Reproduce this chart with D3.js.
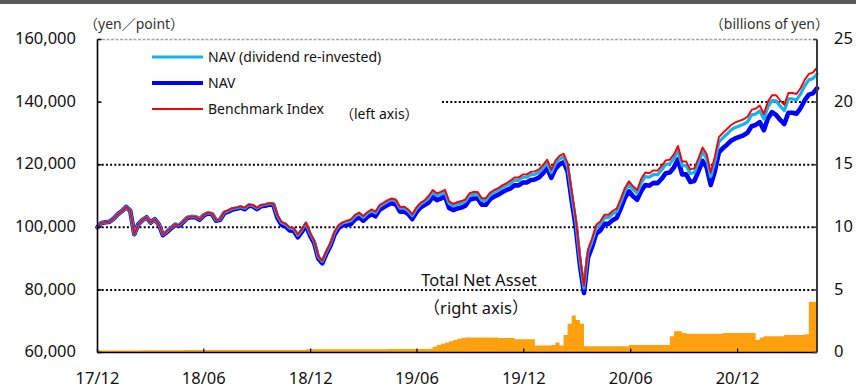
<!DOCTYPE html>
<html>
<head>
<meta charset="utf-8">
<script src="https://cdn.jsdelivr.net/npm/d3@7"></script>
<style>
  body { margin: 0; background: #fff; }
  svg { display: block; font-family: "Noto Sans", "Noto Sans CJK JP", sans-serif; }
</style>
</head>
<body>
<svg id="chart" width="856" height="388"></svg>
<script>
// Weekly observations starting from this date
const startDate = "2017-12-01";

// Benchmark index (yen/point, left axis)
const benchmark = [
  100000,101400,101600,101800,102800,104200,105200,106500,105300,97800,101000,102300,103200,101500,102600,100900,
  97700,98700,99900,101000,100700,101900,103200,103500,103400,102600,104000,104600,104400,102300,102600,
  104900,105400,106100,106300,106700,106200,107300,107100,106200,107100,107300,107700,107600,
  103900,101700,101200,99900,99800,97700,99500,101500,98200,95800,90800,89300,92400,95000,98600,100700,101600,
  102100,102500,104000,104700,103600,104800,105700,105000,107100,107900,108700,109200,108800,106500,106600,105700,104100,106300,107800,108600,
  110000,111900,110850,111300,112000,108300,107500,108000,108400,108950,110900,111300,111300,109300,109300,111000,111900,112500,113400,114050,
  114900,115900,115900,116900,116900,117700,117850,118500,119900,121600,118400,121300,122800,123500,120500,
  111500,102800,90500,81300,93000,96500,100800,101900,104000,104000,105200,106000,109100,112500,114700,113100,111900,
  115500,117500,117250,118200,118100,119600,121400,121600,123300,126000,121000,121000,118500,118850,122000,125500,123400,117500,
  122500,128800,130200,131400,132700,133500,134000,134500,135300,137500,137900,138900,136200,140150,142200,
  142200,140500,139100,142900,142900,142600,144500,147100,149000,149400,151000
];

// NAV with dividends re-invested (yen, left axis)
const navReinvested = [
  100000,101400,101600,101800,102800,104200,105200,106500,105300,97800,101000,102300,103200,101500,102600,100900,
  97700,98700,99900,101000,100700,101900,103200,103500,103400,102600,104000,104600,104400,102300,102600,
  104800,105300,106000,106200,106600,106100,107200,107000,106100,107000,107200,107600,107500,
  103700,101500,101000,99700,99600,97500,99300,101300,98000,95600,90600,89100,92200,94800,98400,100500,101400,
  101700,102100,103600,104300,103200,104400,105300,104600,106700,107500,108300,108800,108400,106100,106200,105300,103700,105900,107400,108200,
  109300,111200,110200,110600,111300,107600,106900,107400,107800,108300,110200,110600,110600,108600,108600,110300,111200,111800,112700,113400,
  114000,115000,115000,116000,116000,116800,116900,117600,118900,120600,117500,120300,121800,122500,119500,
  110500,101900,89700,80600,92200,95600,99900,101000,103100,103100,104300,105000,108100,111500,113700,112100,110900,
  114200,116200,116000,116900,116800,118300,120100,120300,121900,124600,119700,119700,117200,117500,120700,124100,122000,116200,
  121000,127300,128600,129800,131100,131900,132400,132900,133700,135900,136200,137200,134600,138500,140500,
  140400,138700,137300,141000,141000,140700,142600,145200,147100,147500,149000
];

// NAV (yen, left axis)
const nav = [
  100000,101400,101600,101800,102800,104200,105200,106500,105300,97800,101000,102300,103200,101500,102600,100900,
  97500,98500,99700,100800,100500,101700,103000,103300,103200,102400,103800,104400,104200,102100,102400,
  104500,105000,105700,105900,106300,105800,106900,106700,105800,106700,106900,107300,107200,
  103000,100800,100300,99000,98900,96800,98600,100600,97300,94900,90000,88500,91600,94100,97700,99800,100700,
  100700,101100,102500,103200,102100,103300,104200,103500,105600,106400,107200,107700,107300,105000,105100,104200,102600,104800,106300,107100,
  107900,109800,108700,109200,109900,106200,105500,106000,106300,106900,108800,109200,109200,107200,107200,108900,109800,110400,111200,111900,
  112400,113400,113400,114300,114300,115100,115300,115900,117300,118900,115800,118600,120100,120800,117800,
  108400,99900,88000,79000,90400,93800,98000,99000,101100,101100,102300,103000,106000,109400,111500,109900,108800,
  111600,113500,113300,114200,114100,115500,117300,117500,119100,121700,116900,116900,114500,114800,117900,121200,119200,113500,
  117800,123900,125300,126400,127700,128400,128900,129400,130200,132300,132700,133600,131000,134800,136800,
  135900,134300,133000,136600,136600,136300,138100,140600,142400,142800,144400
];

// Total net asset (billions of yen, right axis)
const totalNetAsset = [
  0.15,0.15,0.15,0.15,0.15,0.15,0.15,0.15,0.15,0.15,0.15,
  0.18,0.18,0.18,0.18,0.18,0.18,0.18,0.18,0.18,0.18,
  0.2,0.2,0.2,0.2,0.2,0.2,0.2,0.2,0.2,0.2,0.2,0.2,0.2,0.2,0.2,0.2,0.2,0.2,0.2,0.2,0.2,0.2,0.2,0.2,0.2,0.2,0.2,0.2,0.2,0.2,
  0.25,0.25,0.25,0.25,0.25,0.25,0.25,0.25,0.25,0.25,0.25,0.25,0.25,0.25,0.25,0.25,0.25,0.25,0.25,0.25,0.28,0.28,0.28,0.28,0.28,0.28,0.28,0.28,0.28,0.28,
  0.3,0.45,0.6,0.7,0.8,0.9,1.0,1.1,1.15,
  1.2,1.2,1.2,1.2,1.2,1.2,1.2,1.2,
  1.15,1.15,1.15,1.15,
  1.05,1.05,1.05,1.05,1.05,
  0.55,0.55,0.55,0.55,
  0.6,0.8,0.55,
  1.4,2.3,2.95,2.6,2.3,
  0.5,0.5,0.5,0.5,0.5,0.5,0.5,0.5,0.5,0.5,0.5,
  0.6,0.6,0.6,0.6,0.6,0.6,0.6,0.6,0.6,0.6,
  1.3,1.7,1.7,1.55,
  1.5,1.5,1.5,1.5,1.5,1.5,1.5,1.5,1.5,
  1.55,1.55,1.55,1.55,1.55,1.55,1.55,1.55,
  1.0,1.2,
  1.3,1.3,1.3,1.3,1.3,
  1.4,1.4,1.4,1.4,1.4,
  1.45,
  4.05,4.05,4.1
];

const leftTicks = [60000, 80000, 100000, 120000, 140000, 160000];
const rightTicks = [0, 5, 10, 15, 20, 25];
const gridValues = [80000, 100000, 120000, 140000];
const monthTicks = ["2017-12-01", "2018-06-01", "2018-12-01", "2019-06-01", "2019-12-01", "2020-06-01", "2020-12-01"];
const monthLabels = ["17/12", "18/06", "18/12", "19/06", "19/12", "20/06", "20/12"];

const seriesNames = ["NAV (dividend re-invested)", "NAV", "Benchmark Index"];
const seriesColors = ["#12b4ee", "#0000ff", "#ff0000"];

const parse = d3.utcParse("%Y-%m-%d");
const t0 = parse(startDate);
const dates = benchmark.map((_, i) => d3.utcDay.offset(t0, 7 * i));
const tickDates = monthTicks.map(parse);

const plotLeft = 97.5, plotRight = 817, plotTop = 39.5, plotBottom = 352.5;

const x = d3.scaleUtc().domain([dates[0], dates[dates.length - 1]]).range([plotLeft, plotRight]);
const yL = d3.scaleLinear().domain([60000, 160000]).range([plotBottom, plotTop]);
const yR = d3.scaleLinear().domain([0, 25]).range([plotBottom, plotTop]);

const svg = d3.select("#chart");

// header strip
svg.append("rect").attr("x", 0).attr("y", 0).attr("width", 856).attr("height", 4).attr("fill", "#595959");

// dotted gridlines
svg.append("g").selectAll("line").data(gridValues).join("line")
  .attr("x1", plotLeft).attr("x2", plotRight)
  .attr("y1", d => yL(d)).attr("y2", d => yL(d))
  .attr("stroke", "#000").attr("stroke-width", 2).attr("stroke-dasharray", "2,2.2");

// top border
svg.append("line").attr("x1", plotLeft).attr("x2", plotRight).attr("y1", plotTop).attr("y2", plotTop)
  .attr("stroke", "#a6a6a6").attr("stroke-width", 1.5).attr("stroke-dasharray", "3,1.5");

// legend backdrop
svg.append("rect").attr("x", plotLeft + 1).attr("y", 44).attr("width", 343).attr("height", 82).attr("fill", "#fff");

// total net asset area
const area = d3.area()
  .x((d, i) => x(dates[i]))
  .y0(yR(0))
  .y1(d => yR(d))
  .curve(d3.curveStepAfter);
svg.append("path").datum(totalNetAsset).attr("d", area).attr("fill", "#ffa00f");

// lines: NAV underneath, re-invested NAV, benchmark on top
const line = d3.line().x((d, i) => x(dates[i])).y(d => yL(d));
const lineSpecs = [
  { data: nav, color: seriesColors[1], w: 4.6 },
  { data: navReinvested, color: seriesColors[0], w: 3.2 },
  { data: benchmark, color: seriesColors[2], w: 1.9 }
];
lineSpecs.forEach(s => {
  svg.append("path").datum(s.data).attr("d", line)
    .attr("fill", "none").attr("stroke", s.color).attr("stroke-width", s.w)
    .attr("stroke-linejoin", "round").attr("stroke-linecap", "round");
});

// axes
const axisG = svg.append("g");
axisG.append("line").attr("x1", plotLeft).attr("x2", plotLeft).attr("y1", plotTop).attr("y2", plotBottom)
  .attr("stroke", "#000").attr("stroke-width", 1.6);
axisG.append("line").attr("x1", plotRight).attr("x2", plotRight).attr("y1", plotTop).attr("y2", plotBottom)
  .attr("stroke", "#3a3a3a").attr("stroke-width", 2);
axisG.append("line").attr("x1", plotLeft).attr("x2", plotRight).attr("y1", plotBottom).attr("y2", plotBottom)
  .attr("stroke", "#000").attr("stroke-width", 1.6);

// inward tick marks
axisG.selectAll(".lt").data(leftTicks).join("line")
  .attr("x1", plotLeft).attr("x2", plotLeft + 4).attr("y1", d => yL(d)).attr("y2", d => yL(d))
  .attr("stroke", "#000").attr("stroke-width", 1.5);
axisG.selectAll(".rt").data(rightTicks).join("line")
  .attr("x1", plotRight - 4).attr("x2", plotRight).attr("y1", d => yR(d)).attr("y2", d => yR(d))
  .attr("stroke", "#3a3a3a").attr("stroke-width", 1.5);
axisG.selectAll(".bt").data(tickDates).join("line")
  .attr("x1", d => x(d)).attr("x2", d => x(d)).attr("y1", plotBottom).attr("y2", plotBottom - 4)
  .attr("stroke", "#000").attr("stroke-width", 1.2);

// tick labels
const fmt = d3.format(",");
svg.append("g").selectAll("text").data(leftTicks).join("text")
  .attr("x", 76).attr("y", d => yL(d) - 1).attr("dy", "0.35em")
  .attr("text-anchor", "end").attr("font-size", 16.5).attr("fill", "#111")
  .text(d => fmt(d));
svg.append("g").selectAll("text").data(rightTicks).join("text")
  .attr("x", 834).attr("y", d => yR(d) - 1).attr("dy", "0.35em")
  .attr("text-anchor", "start").attr("font-size", 16.5).attr("fill", "#111")
  .text(d => d);
svg.append("g").selectAll("text").data(tickDates).join("text")
  .attr("x", d => x(d)).attr("y", 384)
  .attr("text-anchor", "middle").attr("font-size", 16.5).attr("fill", "#111")
  .text((d, i) => monthLabels[i]);

// unit captions
svg.append("text").attr("x", 84).attr("y", 29).attr("font-size", 14).attr("fill", "#333")
  .text("（yen／point）");
svg.append("text").attr("x", 829).attr("y", 29).attr("text-anchor", "end").attr("font-size", 14).attr("fill", "#333")
  .text("（billions of yen）");

// legend
const legendRows = [
  { name: seriesNames[0], color: seriesColors[0], w: 3, y: 57 },
  { name: seriesNames[1], color: seriesColors[1], w: 4.2, y: 83 },
  { name: seriesNames[2], color: seriesColors[2], w: 1.8, y: 109 }
];
const lg = svg.append("g");
legendRows.forEach(r => {
  lg.append("line").attr("x1", 152).attr("x2", 203).attr("y1", r.y).attr("y2", r.y)
    .attr("stroke", r.color).attr("stroke-width", r.w);
  lg.append("text").attr("x", 208).attr("y", r.y).attr("dy", "0.35em")
    .attr("font-size", 14).attr("fill", "#111").text(r.name);
});
lg.append("text").attr("x", 340).attr("y", 114).attr("dy", "0.35em")
  .attr("font-size", 14).attr("fill", "#111").text("（left axis）");

// area caption
svg.append("text").attr("x", 479).attr("y", 280).attr("dy", "0.35em").attr("text-anchor", "middle")
  .attr("font-size", 16.5).attr("fill", "#111").text("Total Net Asset");
svg.append("text").attr("x", 476).attr("y", 308).attr("dy", "0.35em").attr("text-anchor", "middle")
  .attr("font-size", 16.5).attr("fill", "#111").text("（right axis）");
</script>
</body>
</html>
